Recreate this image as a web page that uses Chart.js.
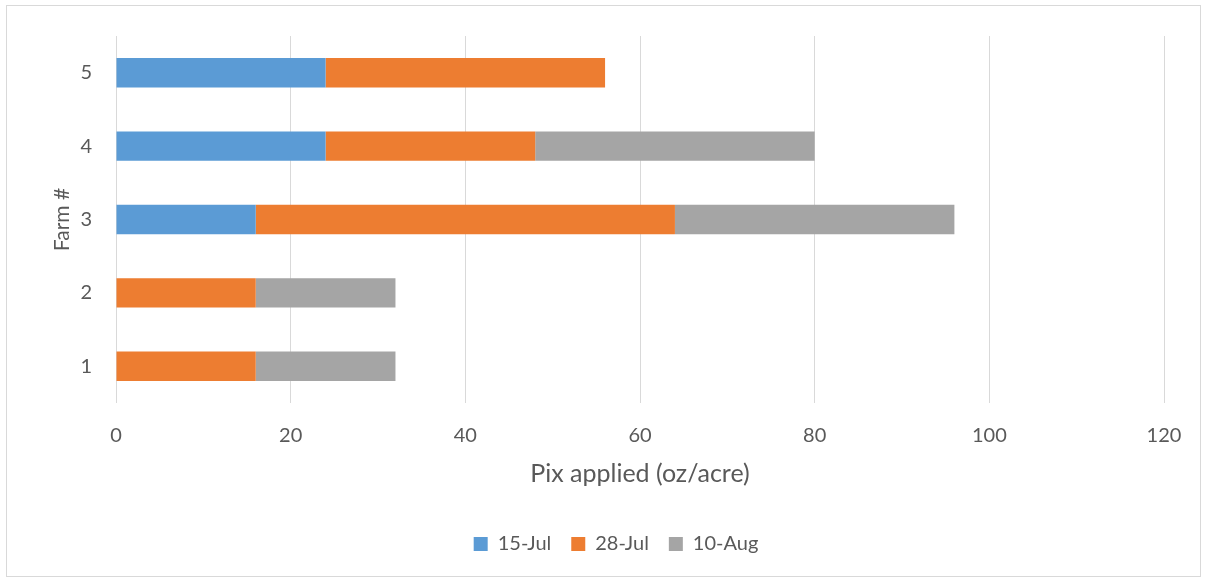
<!DOCTYPE html>
<html>
<head>
<meta charset="utf-8">
<script src="https://cdn.jsdelivr.net/npm/chart.js@4/dist/chart.umd.min.js"></script>
<style>
  html, body { margin: 0; padding: 0; background: #fff; }
  #wrap { position: relative; width: 1207px; height: 579px; }
  #frame { position: absolute; left: 6px; top: 5px; width: 1193px; height: 570px; border: 1px solid #d9d9d9; pointer-events: none; }
</style>
</head>
<body>
<div id="wrap">
  <canvas id="chart" width="1207" height="579"></canvas>
  <div id="frame"></div>
</div>
<script>
const farms = ['1', '2', '3', '4', '5']
const jul15 = [0, 0, 16, 24, 24]
const jul28 = [16, 16, 48, 24, 32]
const aug10 = [16, 16, 32, 32, 0]
const xTicks = [0, 20, 40, 60, 80, 100, 120]

const textColor = '#595959'
const gridColor = '#d9d9d9'
const fontFamily = 'Lato, "Open Sans", sans-serif'

const ctx = document.getElementById('chart').getContext('2d')

new Chart(ctx, {
  type: 'bar',
  data: {
    labels: farms,
    datasets: [
      { label: '15-Jul', data: jul15, backgroundColor: '#5b9bd5' },
      { label: '28-Jul', data: jul28, backgroundColor: '#ed7d31' },
      { label: '10-Aug', data: aug10, backgroundColor: '#a5a5a5' }
    ]
  },
  options: {
    indexAxis: 'y',
    responsive: false,
    animation: false,
    categoryPercentage: 1,
    barPercentage: 0.4,
    // left padding wider so the legend centres like the original
    layout: { padding: { top: 35, right: 43, left: 68, bottom: 15 } },
    plugins: {
      legend: {
        position: 'bottom',
        labels: {
          color: textColor,
          font: { family: fontFamily, size: 20 },
          boxWidth: 14,
          boxHeight: 14,
          padding: 20
        }
      },
      tooltip: { enabled: false }
    },
    scales: {
      x: {
        stacked: true,
        min: 0,
        max: 120,
        afterBuildTicks: (axis) => { axis.ticks = xTicks.map(v => ({ value: v })) },
        grid: { color: gridColor, drawTicks: false },
        border: { display: false },
        ticks: {
          color: textColor,
          font: { family: fontFamily, size: 20 },
          padding: 21
        },
        title: {
          display: true,
          text: 'Pix applied (oz/acre)',
          color: textColor,
          font: { family: fontFamily, size: 25 },
          padding: { top: 12, bottom: 25 }
        },
        afterFit: (axis) => { axis.height = 111 }
      },
      y: {
        stacked: true,
        reverse: true,
        grid: { display: false, drawTicks: false },
        border: { display: false },
        ticks: {
          color: textColor,
          font: { family: fontFamily, size: 20 },
          padding: 24
        },
        title: {
          display: true,
          text: 'Farm #',
          color: textColor,
          font: { family: fontFamily, size: 21 },
          padding: { top: -18, bottom: 4 }
        },
        afterFit: (axis) => { axis.width = 48 }
      }
    }
  }
})
</script>
</body>
</html>
